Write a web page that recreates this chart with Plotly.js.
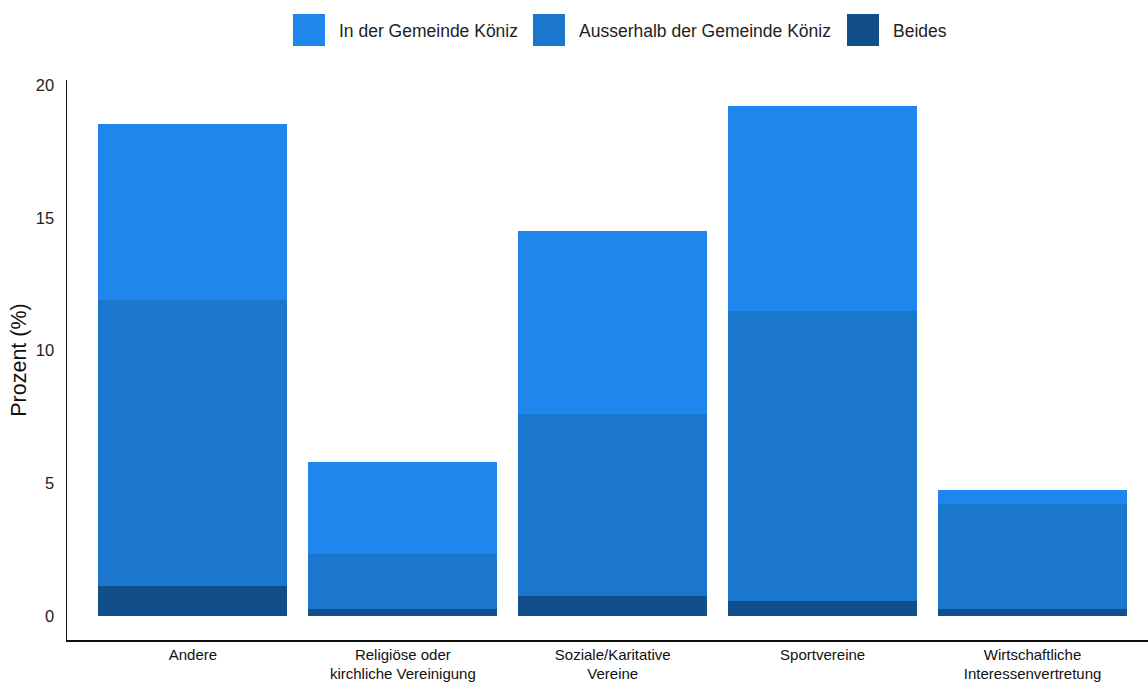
<!DOCTYPE html>
<html>
<head>
<meta charset="utf-8">
<script src="https://cdn.plot.ly/plotly-3.0.1.min.js"></script>
<style>html,body{margin:0;padding:0;background:#fff;}#chart{width:1148px;height:683px;}</style>
</head>
<body>
<div id="chart"></div>
<script>
var categories = ["Andere", "Religiöse oder<br>kirchliche Vereinigung", "Soziale/Karitative<br>Vereine", "Sportvereine", "Wirtschaftliche<br>Interessenvertretung"];
var beides = [1.13, 0.27, 0.75, 0.56, 0.27];
var ausserhalb = [10.77, 2.07, 6.86, 10.93, 3.95];
var inGemeinde = [6.63, 3.46, 6.89, 7.72, 0.53];
var seriesNames = ["In der Gemeinde Köniz", "Ausserhalb der Gemeinde Köniz", "Beides"];
var seriesColors = ["#1E86EC", "#1B76CE", "#114E8A"];
var yTicks = [0, 5, 10, 15, 20];

var xIdx = categories.map(function(_, i){ return i; });
function bar(vals, k){
  return {type:"bar", x:xIdx, y:vals, name:seriesNames[k], width:0.9,
    marker:{color:seriesColors[k], line:{width:0}}, showlegend:false};
}
var data = [bar(beides,2), bar(ausserhalb,1), bar(inGemeinde,0)];

var shapes = [], annotations = [];
var legX = [293, 533, 847];
var legTextX = [337, 577, 891];
for (var k=0;k<3;k++){
  shapes.push({type:"rect", xref:"paper", yref:"paper", layer:"above",
    x0:(legX[k]-67)/1081, x1:(legX[k]+32-67)/1081,
    y0:(640-46)/560, y1:(640-14)/560, fillcolor:seriesColors[k], line:{width:0}});
  annotations.push({xref:"paper", yref:"paper", x:(legTextX[k]-67)/1081, y:(640-31)/560,
    xanchor:"left", yanchor:"middle", text:seriesNames[k], showarrow:false,
    font:{family:"Liberation Sans, Arial, sans-serif", size:17.5, color:"#222"}});
}

var layout = {
  width:1148, height:683,
  margin:{l:67, r:0, t:80, b:43},
  paper_bgcolor:"#fff", plot_bgcolor:"#fff",
  barmode:"stack", bargap:0.1,
  showlegend:false,
  font:{family:"Liberation Sans, Arial, sans-serif", color:"#222"},
  xaxis:{range:[-0.6,4.55], tickvals:xIdx, ticktext:categories, showgrid:false, zeroline:false,
    showline:true, linecolor:"#111", linewidth:1.5, ticks:"", automargin:false,
    ticklabelstandoff:0,
    tickfont:{size:15, color:"#111"}},
  yaxis:{range:[-0.9,20.2], tickvals:yTicks, showgrid:false, zeroline:false,
    showline:true, linecolor:"#111", linewidth:1.5, ticks:"", automargin:false,
    ticklabelstandoff:8,
    tickfont:{size:16.5, color:"#222"},
    title:{text:"Prozent (%)", font:{size:21.5, color:"#111"}, standoff:3}},
  shapes:shapes, annotations:annotations
};
Plotly.newPlot("chart", data, layout, {displayModeBar:false, staticPlot:true});
</script>
</body>
</html>
